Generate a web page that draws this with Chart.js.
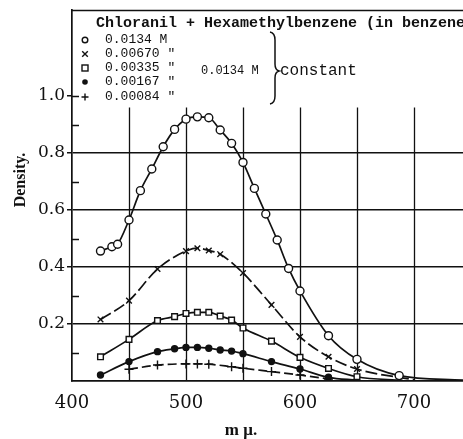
<!DOCTYPE html>
<html>
<head>
<meta charset="utf-8">
<script src="https://cdn.jsdelivr.net/npm/chart.js@4/dist/chart.umd.min.js"></script>
<style>
  body { margin: 0; background: #fff; }
  canvas { display: block; }
</style>
</head>
<body>
<canvas id="absChart" width="463" height="439"></canvas>
<script>
// wavelength (m\u03bc) and density for each hexamethylbenzene concentration
const wave1 = [425, 435, 440, 450, 460, 470, 480, 490, 500, 510, 520, 530, 540, 550, 560, 570, 580, 590, 600, 625, 650, 687];
const dens1 = [0.456, 0.471, 0.48, 0.565, 0.668, 0.744, 0.822, 0.883, 0.919, 0.927, 0.924, 0.881, 0.834, 0.767, 0.676, 0.586, 0.495, 0.395, 0.316, 0.159, 0.076, 0.019];
const tailWave1 = [743];
const tailDens1 = [0.003];

const wave2 = [425, 450, 475, 500, 510, 520, 530, 550, 575, 600, 625, 650];
const dens2 = [0.216, 0.282, 0.393, 0.456, 0.466, 0.458, 0.445, 0.379, 0.267, 0.155, 0.085, 0.042];
const tailWave2 = [700];
const tailDens2 = [0.004];

const wave3 = [425, 450, 475, 490, 500, 510, 520, 530, 540, 550, 575, 600, 625, 650];
const dens3 = [0.085, 0.146, 0.212, 0.226, 0.237, 0.241, 0.241, 0.228, 0.214, 0.186, 0.14, 0.083, 0.044, 0.015];
const tailWave3 = [690];
const tailDens3 = [0.002];

const wave4 = [425, 450, 475, 490, 500, 510, 520, 530, 540, 550, 575, 600, 625];
const dens4 = [0.021, 0.068, 0.103, 0.113, 0.118, 0.118, 0.115, 0.109, 0.105, 0.096, 0.068, 0.042, 0.013];
const tailWave4 = [650];
const tailDens4 = [0.003];

const wave5 = [450, 475, 500, 510, 520, 540, 550, 575, 600, 625];
const dens5 = [0.041, 0.056, 0.06, 0.06, 0.059, 0.05, 0.045, 0.033, 0.021, 0.007];
const tailWave5 = [];
const tailDens5 = [];

const concLabels = ["0.0134", "0.00670", "0.00335", "0.00167", "0.00084"];
const yTickValues = [0.2, 0.4, 0.6, 0.8, 1.0];
const yTickLabels = ["0.2", "0.4", "0.6", "0.8", "1.0"];
const xTickLabels = ["400", "500", "600", "700"];
const gridWaves = [450, 500, 550, 600, 650, 700];
const minorDensities = [0.1, 0.3, 0.5, 0.7, 0.9, 1.0];

const ink = "#111";

function makeSeries(wave, dens, tailWave, tailDens, style) {
  const pts = wave.map((w, i) => ({ x: w, y: dens[i] }))
    .concat(tailWave.map((w, i) => ({ x: w, y: tailDens[i] })));
  return {
    data: pts,
    borderColor: ink,
    borderWidth: 1.7,
    borderDash: style.dash || [],
    cubicInterpolationMode: "monotone",
    pointStyle: style.shape,
    pointRadius: ctx => ctx.dataIndex < wave.length ? style.r : 0,
    pointHoverRadius: 0,
    pointBackgroundColor: style.fill,
    pointBorderColor: ink,
    pointBorderWidth: 1.4
  };
}

const paper = {
  id: "paper",
  beforeDatasetsDraw(chart) {
    const { ctx, chartArea: a, scales: { x, y } } = chart;
    ctx.save();
    ctx.strokeStyle = ink;
    ctx.lineWidth = 1.3;
    const gridTop = y.getPixelForValue(0.96);
    gridWaves.forEach(w => {
      const px = Math.round(x.getPixelForValue(w)) + 0.5;
      ctx.beginPath();
      ctx.moveTo(px, gridTop);
      ctx.lineTo(px, a.bottom);
      ctx.stroke();
    });
    ctx.lineWidth = 1.5;
    minorDensities.forEach(v => {
      const py = Math.round(y.getPixelForValue(v)) + 0.5;
      ctx.beginPath();
      ctx.moveTo(a.left, py);
      ctx.lineTo(a.left + 7, py);
      ctx.stroke();
    });
    ctx.lineWidth = 1.7;
    ctx.beginPath();
    ctx.moveTo(a.left, a.top + 0.5);
    ctx.lineTo(a.right, a.top + 0.5);
    ctx.stroke();

    // axis titles
    ctx.fillStyle = ink;
    ctx.textAlign = "center";
    ctx.textBaseline = "middle";
    ctx.font = "bold 16px 'Liberation Serif'";
    ctx.save();
    ctx.translate(21, 180);
    ctx.rotate(-Math.PI / 2);
    ctx.fillText("Density.", 0, 0);
    ctx.restore();
    ctx.font = "bold 17px 'Liberation Serif'";
    ctx.fillText("m \u03bc.", 241, 431);
    ctx.restore();
  },
  afterDraw(chart) {
    const ctx = chart.ctx;
    ctx.save();
    ctx.fillStyle = ink;
    ctx.strokeStyle = ink;
    ctx.textBaseline = "middle";
    ctx.textAlign = "left";
    ctx.font = "bold 15px 'Liberation Mono'";
    ctx.fillText("Chloranil + Hexamethylbenzene (in benzene)", 96, 23);

    const rowY = [40, 54, 68, 82, 97];
    const mx = 85;
    ctx.lineWidth = 1.4;
    rowY.forEach((ry, i) => {
      ctx.beginPath();
      if (i === 0) {
        ctx.arc(mx, ry, 2.8, 0, Math.PI * 2);
        ctx.stroke();
      } else if (i === 1) {
        ctx.moveTo(mx - 2.8, ry - 2.8); ctx.lineTo(mx + 2.8, ry + 2.8);
        ctx.moveTo(mx + 2.8, ry - 2.8); ctx.lineTo(mx - 2.8, ry + 2.8);
        ctx.stroke();
      } else if (i === 2) {
        ctx.strokeRect(mx - 3, ry - 3, 6, 6);
      } else if (i === 3) {
        ctx.arc(mx, ry, 2.8, 0, Math.PI * 2);
        ctx.fill();
      } else {
        ctx.moveTo(mx - 3.5, ry); ctx.lineTo(mx + 3.5, ry);
        ctx.moveTo(mx, ry - 3.5); ctx.lineTo(mx, ry + 3.5);
        ctx.stroke();
      }
      ctx.font = "13px 'Liberation Mono'";
      ctx.fillText(concLabels[i] + (i === 0 ? " M" : " \""), 105, ry);
    });

    ctx.font = "12px 'Liberation Mono'";
    ctx.fillText("0.0134 M", 201, 71);
    ctx.font = "16px 'Liberation Mono'";
    ctx.fillText("constant", 280, 71);

    // brace
    ctx.lineWidth = 1.5;
    ctx.beginPath();
    ctx.moveTo(270, 32);
    ctx.quadraticCurveTo(275, 33, 275, 40);
    ctx.lineTo(275, 64);
    ctx.quadraticCurveTo(275, 70, 279, 71);
    ctx.quadraticCurveTo(275, 72, 275, 78);
    ctx.lineTo(275, 96);
    ctx.quadraticCurveTo(275, 103, 270, 104);
    ctx.stroke();
    ctx.restore();
  }
};

new Chart(document.getElementById("absChart"), {
  type: "line",
  data: {
    datasets: [
      makeSeries(wave1, dens1, tailWave1, tailDens1, { shape: "circle", r: 4, fill: "#fff" }),
      makeSeries(wave2, dens2, tailWave2, tailDens2, { shape: "crossRot", r: 4, fill: "#fff", dash: [12, 4] }),
      makeSeries(wave3, dens3, tailWave3, tailDens3, { shape: "rect", r: 4, fill: "#fff" }),
      makeSeries(wave4, dens4, tailWave4, tailDens4, { shape: "circle", r: 3, fill: ink }),
      makeSeries(wave5, dens5, tailWave5, tailDens5, { shape: "cross", r: 4.5, fill: "#fff", dash: [9, 4] })
    ]
  },
  options: {
    responsive: false,
    animation: false,
    events: [],
    layout: { autoPadding: false, padding: { top: 10, right: 0, bottom: 0, left: 0 } },
    plugins: { legend: { display: false }, tooltip: { enabled: false } },
    scales: {
      x: {
        type: "linear",
        min: 400,
        max: 743,
        border: { color: ink, width: 1.7 },
        grid: { display: false, drawTicks: false },
        ticks: {
          stepSize: 50,
          autoSkip: false,
          maxRotation: 0,
          padding: 12,
          color: ink,
          font: { family: "'DejaVu Serif'", size: 18 },
          callback: v => {
            const i = xTickLabels.indexOf(String(v));
            return i >= 0 ? xTickLabels[i] : "";
          }
        },
        afterFit: s => { s.height = 58; s.paddingLeft = 0; s.paddingRight = 0; }
      },
      y: {
        min: 0,
        max: 1.302,
        border: { color: ink, width: 1.7 },
        grid: {
          lineWidth: 1.5,
          tickLength: 5,
          color: c => [2, 4, 6, 8].includes(Math.round(c.tick.value * 10)) ? ink : "rgba(0,0,0,0)",
          tickColor: c => [2, 4, 6, 8, 10].includes(Math.round(c.tick.value * 10)) ? ink : "rgba(0,0,0,0)"
        },
        ticks: {
          stepSize: 0.1,
          autoSkip: false,
          padding: 2,
          color: ink,
          font: { family: "'DejaVu Serif'", size: 17 },
          callback: v => {
            const i = yTickValues.findIndex(t => Math.abs(t - v) < 1e-6);
            return i >= 0 ? yTickLabels[i] : "";
          }
        },
        afterFit: s => { s.width = 72; s.paddingTop = 0; s.paddingBottom = 0; }
      }
    }
  },
  plugins: [paper]
});
</script>
</body>
</html>
